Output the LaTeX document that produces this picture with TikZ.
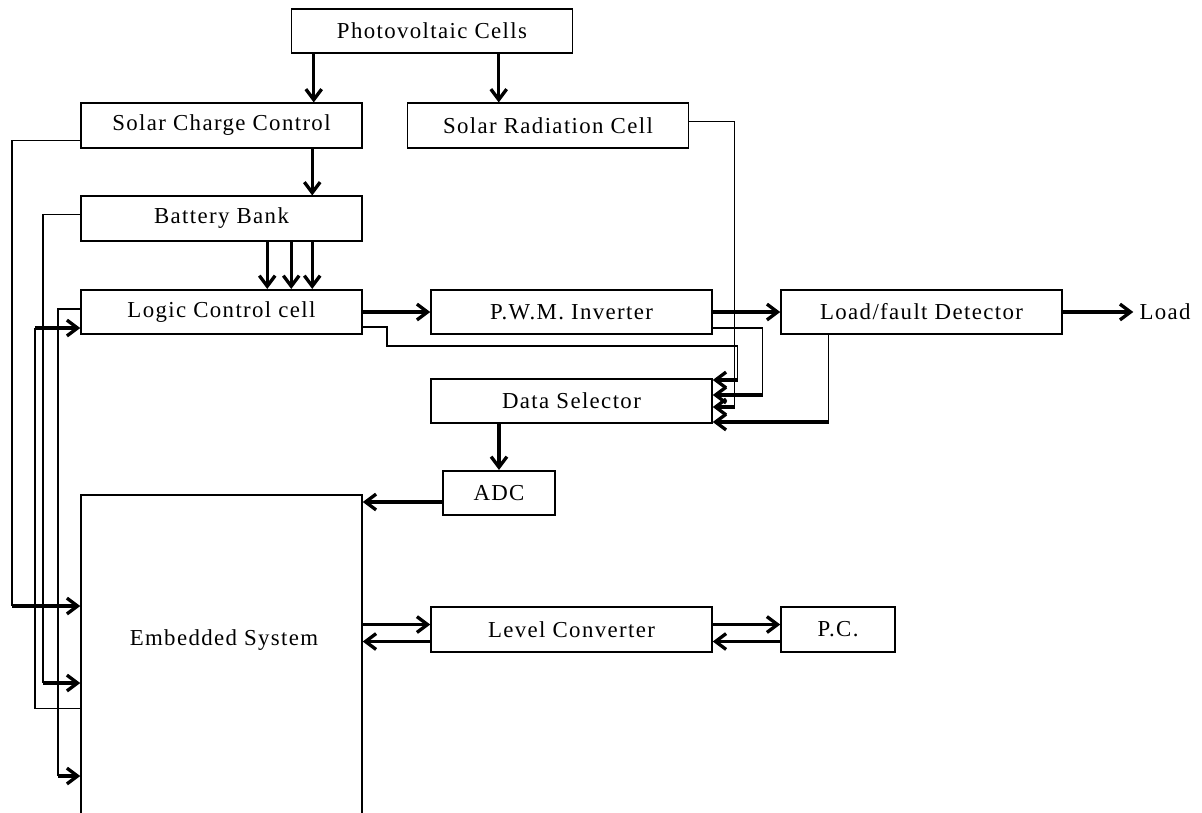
\documentclass[tikz,border=0pt]{standalone}
\usepackage{fontspec}
\setmainfont[LetterSpace=6]{Liberation Serif}
\usetikzlibrary{arrows.meta,calc}

\begin{document}
\begin{tikzpicture}[x=0.02cm,y=-0.02cm,
        txt/.style={font=\fontsize{13}{15}\selectfont},
        box/.style={txt,draw,line width=0.9pt,minimum width=5.62cm,minimum height=0.89cm,inner sep=0pt},
        wire/.style={line width=0.8pt},
        arr/.style={line width=1.9pt,-{Straight Barb[length=6pt,width=9pt]}}]
        \clip(0,0)rectangle(1202,812);
        \node[box](pv)at(432,31){Photovoltaic Cells};
        \node[box](scc)at(221.5,125.5){Solar Charge Control};
        \node[box](src)at(548,125.5){Solar Radiation Cell};
        \node[box](bb)at(221.5,218.5){Battery Bank};
        \node[box](lcc)at(221.5,312){Logic Control cell};
        \node[box](pwm)at(571.5,312){P.W.M. Inverter};
        \node[box](lfd)at(921.5,312){Load/fault Detector};
        \node[txt](load)at(1165,312){Load};
        \node[box](ds)at(571.5,401){Data Selector};
        \node[box,minimum width=2.24cm](adc)at(499,493){ADC};
        \node[box,minimum height=6.7cm](es)at(221.5,662.5){};
        \node[txt](estext)at(224,640){Embedded System};
        \node[box](lc)at(571.5,629.5){Level Converter};
        \node[box,minimum width=2.28cm](pc)at(838,629.5){P.C.};
        \draw[arr]($(pv.south west)+(23,0)$)coordinate(p1)--(p1|-scc.north);
        \draw[arr]($(pv.south west)+(208,0)$)coordinate(p2)--(p2|-src.north);
        \draw[arr]($(scc.south west)+(232,0)$)coordinate(p3)--(p3|-bb.north);
        \foreach \dx in {187,211,232}
            \draw[arr]($(bb.south west)+(\dx,0)$)coordinate(p4)--(p4|-lcc.north);
        \draw[arr](lcc.east)--(pwm.west);
        \draw[arr](pwm.east)--(lfd.west);
        \draw[arr](lfd.east)--(load.west);
        \coordinate(d1)at($(ds.east)+(25,-21)$);
        \coordinate(d2)at($(ds.east)+(50,-6)$);
        \coordinate(d3)at($(ds.east)+(22,6)$);
        \coordinate(d4)at($(ds.east)+(116,21)$);
        \draw[wire]($(lcc.east)+(0,15)$)-|(387,346)-|(d1);
        \draw[wire]($(pwm.east)+(0,16)$)-|(d2);
        \draw[wire]($(src.east)+(0,-4)$)-|(d3);
        \draw[wire](d4|-lfd.south)--(d4);
        \foreach \d in {d1,d2,d3,d4}
            \draw[arr](\d)--(\d-|ds.east);
        \draw[arr](ds.south-|adc.north)--(adc.north);
        \draw[arr]($(adc.west)+(0,9)$)coordinate(a1)--(a1-|es.east);
        \coordinate(l1)at($(lc.west)+(0,-5)$);
        \coordinate(l2)at($(lc.west)+(0,12)$);
        \coordinate(r1)at($(pc.west)+(0,-5)$);
        \coordinate(r2)at($(pc.west)+(0,12)$);
        \draw[arr](l1-|es.east)--(l1);
        \draw[arr](l2)--(l2-|es.east);
        \draw[arr](r1-|lc.east)--(r1);
        \draw[arr](r2)--(r2-|lc.east);
        \coordinate(e1)at(12,606);
        \coordinate(e2)at(43,683);
        \coordinate(e3)at(35,328);
        \coordinate(e4)at(58,776);
        \draw[wire]($(scc.west)+(0,15)$)-|(e1);
        \draw[wire]($(bb.west)+(0,-4)$)-|(e2);
        \draw[wire]($(es.west)+(0,46)$)-|(e3);
        \draw[wire]($(lcc.west)+(0,-3)$)-|(e4);
        \draw[arr](e1)--(e1-|es.west);
        \draw[arr](e2)--(e2-|es.west);
        \draw[arr](e3)--(e3-|lcc.west);
        \draw[arr](e4)--(e4-|es.west);
    \end{tikzpicture}
\end{document}
